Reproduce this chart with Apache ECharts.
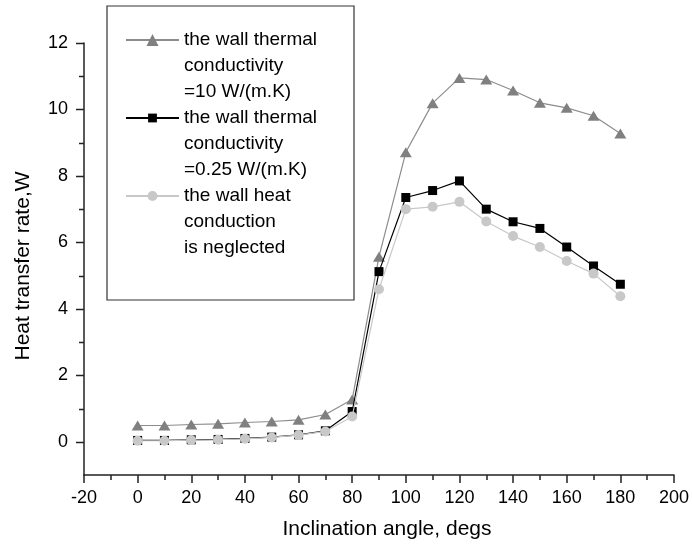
<!DOCTYPE html>
<html>
<head>
<meta charset="utf-8">
<script src="https://cdn.jsdelivr.net/npm/echarts@6/dist/echarts.min.js"></script>
<style>
  html, body { margin: 0; padding: 0; background: #fff; }
  #chart { width: 692px; height: 546px; }
</style>
</head>
<body>
<div id="chart"></div>
<script>
// Inclination angle (degrees)
const angles = [0, 10, 20, 30, 40, 50, 60, 70, 80, 90, 100, 110, 120, 130, 140, 150, 160, 170, 180];

// Heat transfer rate (W) for each wall model
const wallK10 = [0.49, 0.49, 0.52, 0.54, 0.58, 0.61, 0.66, 0.82, 1.27, 5.57, 8.71, 10.19, 10.95, 10.90, 10.57, 10.20, 10.05, 9.81, 9.28];
const wallK025 = [0.04, 0.04, 0.06, 0.07, 0.10, 0.14, 0.21, 0.33, 0.91, 5.12, 7.35, 7.56, 7.85, 7.00, 6.62, 6.42, 5.86, 5.29, 4.74];
const noWall = [0.03, 0.03, 0.05, 0.06, 0.09, 0.13, 0.20, 0.31, 0.76, 4.59, 7.00, 7.07, 7.22, 6.63, 6.19, 5.86, 5.44, 5.06, 4.38];

// Y axis: labelled (long) and unlabelled (short) tick values
const yMajorTicks = [0, 2, 4, 6, 8, 10, 12];
const yMinorTicks = [1, 3, 5, 7, 9, 11];

const seriesNames = [
  'the wall thermal\nconductivity\n=10 W/(m.K)',
  'the wall thermal\nconductivity\n=0.25 W/(m.K)',
  'the wall heat\nconduction\nis neglected'
];

const FONT = '"Liberation Sans", Arial, sans-serif';
const LINE_H = 26;
const TICK_COLOR = '#222';

function pairs(ys) {
  return angles.map((x, i) => [x, ys[i]]);
}

// One legend block per series; two leading blank lines put the
// first text line level with the icon
function legendBlock(name, firstLineY, itemHeight) {
  return {
    data: [name],
    left: 125,
    top: firstLineY - 2.5 * LINE_H,
    orient: 'vertical',
    padding: 0,
    itemWidth: 53,
    itemHeight: itemHeight,
    selectedMode: false,
    formatter: n => '\n\n' + n,
    textStyle: {
      fontFamily: FONT,
      fontSize: 19,
      color: '#000',
      lineHeight: LINE_H
    }
  };
}

const axisLineStyle = { color: TICK_COLOR, width: 1.5 };

const chart = echarts.init(document.getElementById('chart'), null, { renderer: 'canvas' });

chart.setOption({
  animation: false,
  backgroundColor: '#fff',
  grid: { left: 84, right: 17, top: 43, bottom: 71, containLabel: false },
  xAxis: {
    type: 'value',
    min: -20,
    max: 200,
    interval: 20,
    name: 'Inclination angle, degs',
    nameLocation: 'middle',
    nameGap: 44,
    nameTextStyle: { fontFamily: FONT, fontSize: 21, color: '#000', padding: [0, 0, 0, 16] },
    axisLine: { onZero: false, lineStyle: axisLineStyle },
    axisTick: { show: true, inside: false, length: 8, lineStyle: axisLineStyle },
    minorTick: { show: true, splitNumber: 2, length: 5, lineStyle: axisLineStyle },
    axisLabel: { fontFamily: FONT, fontSize: 18, color: '#000', margin: 14 },
    splitLine: { show: false }
  },
  yAxis: {
    type: 'value',
    min: -1,
    max: 12,
    interval: 1,
    name: 'Heat transfer rate,W',
    nameLocation: 'middle',
    nameRotate: 90,
    nameGap: 50,
    nameTextStyle: { fontFamily: FONT, fontSize: 21, color: '#000', padding: [0, 14, 0, 0] },
    axisLine: { show: true, onZero: false, lineStyle: axisLineStyle },
    axisTick: { show: false },
    axisLabel: { fontFamily: FONT, fontSize: 18, color: '#000', margin: 16, customValues: yMajorTicks },
    splitLine: { show: false }
  },
  legend: [
    legendBlock(seriesNames[0], 40, 15),
    legendBlock(seriesNames[1], 118, 11),
    legendBlock(seriesNames[2], 196, 12.5)
  ],
  graphic: [{
    id: 'legendFrame',
    type: 'rect',
    shape: { x: 107, y: 6, width: 247, height: 294 },
    style: { fill: 'none', stroke: '#333', lineWidth: 1.2 },
    z: 10
  }],
  series: [
    {
      name: seriesNames[0],
      type: 'line',
      data: pairs(wallK10),
      symbol: 'triangle',
      symbolSize: [12, 10],
      lineStyle: { color: '#8c8c8c', width: 1.2 },
      itemStyle: { color: '#808080' },
      z: 2
    },
    {
      name: seriesNames[1],
      type: 'line',
      data: pairs(wallK025),
      symbol: 'rect',
      symbolSize: 9,
      lineStyle: { color: '#000', width: 1.2 },
      itemStyle: { color: '#000' },
      z: 3
    },
    {
      name: seriesNames[2],
      type: 'line',
      data: pairs(noWall),
      symbol: 'circle',
      symbolSize: 10,
      lineStyle: { color: '#c8c8c8', width: 1.2 },
      itemStyle: { color: '#c8c8c8' },
      z: 4
    }
  ]
});

// Outward y-axis ticks placed through the grid's scales: long at the
// labelled values, short in between
function tickLines(values, len, prefix) {
  return values.map(v => {
    const p = chart.convertToPixel({ gridIndex: 0 }, [-20, v]);
    const x = p[0];
    const y = Math.round(p[1]) + 0.5;
    return {
      id: prefix + v,
      type: 'line',
      silent: true,
      shape: { x1: x - len, y1: y, x2: x, y2: y },
      style: { stroke: TICK_COLOR, lineWidth: 1.5, fill: null },
      z: 20
    };
  });
}
chart.setOption({
  graphic: tickLines(yMajorTicks, 8, 'yMajor').concat(tickLines(yMinorTicks, 5, 'yMinor'))
});
</script>
</body>
</html>
